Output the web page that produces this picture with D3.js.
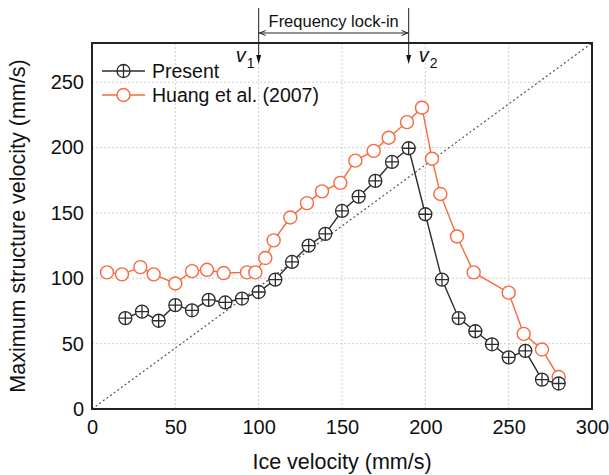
<!DOCTYPE html>
<html>
<head>
<meta charset="utf-8">
<script src="https://cdn.jsdelivr.net/npm/d3@7"></script>
<style>
  body { margin: 0; background: #fff; }
  text { font-family: "Liberation Sans", Arial, sans-serif; }
</style>
</head>
<body>
<div id="container"></div>
<script>
/* CONSTANTS AND GLOBALS */
const width = 609;
const height = 475;
const margin = { top: 43, right: 17, bottom: 66, left: 92 };

const orange = "#f8693f";
const dark = "#2b2b2b";

/* DATA */
const presentX = [20, 30, 40, 50, 60, 70, 80, 90, 100, 110, 120, 130, 140, 150, 160, 170, 180, 190, 200, 210, 220, 230, 240, 250, 260, 270, 280];
const presentY = [69.5, 74.5, 67.5, 79.5, 75.5, 83.5, 81.5, 84.5, 89.5, 99, 112.5, 125, 134, 151.5, 162.5, 174.5, 189, 199.5, 149, 99, 69.5, 59.5, 49.5, 39.5, 44.5, 22.5, 19.5];

const huangX = [9, 18, 29, 37, 50, 60, 69, 79, 93, 98, 104, 109, 119, 129, 138, 149, 158, 169, 178, 189, 198, 204, 209, 219, 229, 250, 259, 270, 280];
const huangY = [104.5, 103, 108.5, 103, 96, 105.5, 106.5, 104, 104.5, 104.5, 115.5, 129, 146.5, 157.5, 166.5, 173, 190, 197.5, 207.5, 219.5, 230.5, 191.5, 164.5, 132, 104.5, 89, 57.5, 45.5, 24.5];

const xTicks = [0, 50, 100, 150, 200, 250, 300];
const yTicks = [0, 50, 100, 150, 200, 250];
const lockIn = [100, 190]; // v1, v2
const diagonal = [[0, 0], [300, 280]];

const present = presentX.map((x, i) => ({ x, y: presentY[i] }));
const huang = huangX.map((x, i) => ({ x, y: huangY[i] }));

const svg = d3.select("#container").append("svg")
  .attr("width", width)
  .attr("height", height);

/* SCALES */
const xScale = d3.scaleLinear()
  .domain([0, 300])
  .range([margin.left, width - margin.right]);

const yScale = d3.scaleLinear()
  .domain([0, 280])
  .range([height - margin.bottom, margin.top]);

/* GRID */
svg.append("g")
  .selectAll("line.vgrid")
  .data(xTicks.slice(1, -1))
  .join("line")
  .attr("x1", d => xScale(d)).attr("x2", d => xScale(d))
  .attr("y1", yScale(0)).attr("y2", yScale(280))
  .attr("stroke", "#cfcfcf").attr("stroke-width", 1)
  .attr("stroke-dasharray", "2,2");

svg.append("g")
  .selectAll("line.hgrid")
  .data(yTicks.slice(1))
  .join("line")
  .attr("x1", xScale(0)).attr("x2", xScale(300))
  .attr("y1", d => yScale(d)).attr("y2", d => yScale(d))
  .attr("stroke", "#cfcfcf").attr("stroke-width", 1)
  .attr("stroke-dasharray", "2,2");

/* DIAGONAL */
svg.append("line")
  .attr("x1", xScale(diagonal[0][0])).attr("y1", yScale(diagonal[0][1]))
  .attr("x2", xScale(diagonal[1][0])).attr("y2", yScale(diagonal[1][1]))
  .attr("stroke", "#555").attr("stroke-width", 1.2)
  .attr("stroke-dasharray", "2,2.5");

/* AXES */
const xAxis = d3.axisBottom(xScale).tickValues(xTicks).tickSize(0).tickPadding(11);
const yAxis = d3.axisLeft(yScale).tickValues(yTicks).tickSize(0).tickPadding(8);

const gx = svg.append("g")
  .attr("transform", `translate(0,${height - margin.bottom})`)
  .call(xAxis);
const gy = svg.append("g")
  .attr("transform", `translate(${margin.left},0)`)
  .call(yAxis);
[gx, gy].forEach(g => {
  g.select(".domain").remove();
  g.selectAll("text").attr("font-size", 20).attr("fill", "#111")
    .style("font-family", "'Liberation Sans', Arial, sans-serif");
});

/* FRAME */
svg.append("rect")
  .attr("x", xScale(0)).attr("y", yScale(280))
  .attr("width", xScale(300) - xScale(0))
  .attr("height", yScale(0) - yScale(280))
  .attr("fill", "none").attr("stroke", "#222").attr("stroke-width", 2);

/* LINES */
const line = d3.line().x(d => xScale(d.x)).y(d => yScale(d.y));

svg.append("path").datum(huang)
  .attr("d", line).attr("fill", "none")
  .attr("stroke", orange).attr("stroke-width", 1.4);

svg.append("path").datum(present)
  .attr("d", line).attr("fill", "none")
  .attr("stroke", dark).attr("stroke-width", 1.4);

/* MARKERS */
const r = 6.5;
function plusMarker(g) {
  g.append("circle").attr("r", r).attr("fill", "#fff")
    .attr("stroke", dark).attr("stroke-width", 1.3);
  g.append("path").attr("d", `M${-r},0H${r}M0,${-r}V${r}`)
    .attr("stroke", dark).attr("stroke-width", 1.3);
}
function ringMarker(g) {
  g.append("circle").attr("r", r).attr("fill", "#fff")
    .attr("stroke", orange).attr("stroke-width", 1.4);
}

svg.append("g").selectAll("g")
  .data(huang).join("g")
  .attr("transform", d => `translate(${xScale(d.x)},${yScale(d.y)})`)
  .each(function() { ringMarker(d3.select(this)); });

svg.append("g").selectAll("g")
  .data(present).join("g")
  .attr("transform", d => `translate(${xScale(d.x)},${yScale(d.y)})`)
  .each(function() { plusMarker(d3.select(this)); });

/* LEGEND */
const legend = svg.append("g");
const items = [
  { label: "Present", color: dark, draw: plusMarker, y: 71 },
  { label: "Huang et al. (2007)", color: orange, draw: ringMarker, y: 95 }
];
items.forEach(it => {
  legend.append("line")
    .attr("x1", 102).attr("x2", 145).attr("y1", it.y).attr("y2", it.y)
    .attr("stroke", it.color).attr("stroke-width", 1.4);
  it.draw(legend.append("g").attr("transform", `translate(123.5,${it.y})`));
  legend.append("text")
    .attr("x", 152).attr("y", it.y + 6.5)
    .attr("font-size", 19.5).attr("fill", "#111")
    .text(it.label);
});

/* FREQUENCY LOCK-IN ANNOTATION */
const ann = svg.append("g");
const xa = xScale(lockIn[0]), xb = xScale(lockIn[1]);
[xa, xb].forEach(x => {
  ann.append("line").attr("x1", x).attr("x2", x).attr("y1", 8).attr("y2", 56)
    .attr("stroke", "#222").attr("stroke-width", 1);
  ann.append("path").attr("d", `M${x - 2.5},55L${x + 2.5},55L${x},64Z`).attr("fill", "#111");
});
ann.append("line").attr("x1", xa).attr("x2", xb).attr("y1", 33).attr("y2", 33)
  .attr("stroke", "#222").attr("stroke-width", 1);
ann.append("path").attr("d", `M${xa + 7},30.5L${xa + 1},33L${xa + 7},35.5`)
  .attr("fill", "none").attr("stroke", "#222").attr("stroke-width", 1);
ann.append("path").attr("d", `M${xb - 7},30.5L${xb - 1},33L${xb - 7},35.5`)
  .attr("fill", "none").attr("stroke", "#222").attr("stroke-width", 1);
ann.append("text")
  .attr("x", (xa + xb) / 2).attr("y", 26.5)
  .attr("text-anchor", "middle").attr("font-size", 16.5).attr("fill", "#111")
  .text("Frequency lock-in");

[{ x: xa - 23, sub: "1" }, { x: xb + 10, sub: "2" }].forEach(v => {
  const t = ann.append("text").attr("x", v.x).attr("y", 62).attr("fill", "#111");
  t.append("tspan").attr("font-size", 20).attr("font-style", "italic").text("v");
  t.append("tspan").attr("font-size", 14).attr("dy", 6).attr("dx", 1).text(v.sub);
});

/* AXIS TITLES */
svg.append("text")
  .attr("x", (xScale(0) + xScale(300)) / 2).attr("y", 469)
  .attr("text-anchor", "middle").attr("font-size", 21.5).attr("fill", "#111")
  .text("Ice velocity (mm/s)");

svg.append("text")
  .attr("transform", `translate(25,${(yScale(0) + yScale(280)) / 2}) rotate(-90)`)
  .attr("text-anchor", "middle").attr("font-size", 21.5).attr("fill", "#111")
  .text("Maximum structure velocity (mm/s)");
</script>
</body>
</html>
